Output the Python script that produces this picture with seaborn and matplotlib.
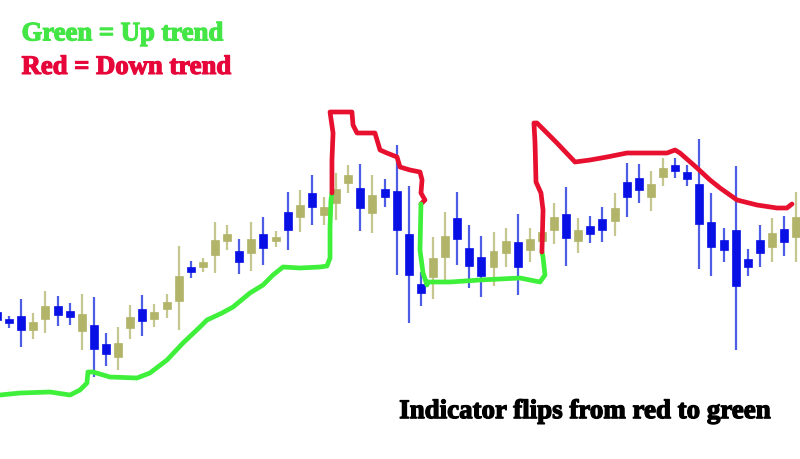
import numpy as np
import pandas as pd
import matplotlib
matplotlib.use("Agg")
import matplotlib.pyplot as plt
import matplotlib.patheffects as pe
import seaborn as sns

# Velas (open, high, low, close)
opens = [18.8, 18.1, 18.4, 17.0, 18.1, 19.4, 18.9, 16.9, 17.5, 15.6,
         14.3, 17.2, 19.1, 18.1, 19.1, 19.9, 23.3, 23.3, 24.5, 25.9,
         24.9, 24.7, 26.6, 25.9, 28.8, 28.3, 30.7, 28.5, 29.7, 31.7,
         31.2, 28.7, 31.1, 30.9, 26.6, 21.6, 22.3, 24.3, 28.2, 25.2,
         24.3, 23.3, 24.7, 25.8, 25.0, 25.9, 27.0, 28.6, 25.9, 27.4,
         28.1, 27.9, 31.8, 32.2, 30.3, 32.3, 33.5, 32.8, 31.6, 27.8,
         26.0, 27.0, 24.1, 26.0, 25.3, 27.1, 26.3]
highs = [19.2, 18.4, 20.1, 18.7, 20.9, 20.4, 19.7, 20.6, 20.3, 16.7,
         17.3, 19.5, 20.5, 19.6, 20.6, 25.4, 23.9, 24.2, 27.8, 27.5,
         26.1, 27.8, 28.3, 26.9, 30.8, 31.0, 32.5, 30.3, 32.7, 33.5,
         33.6, 32.5, 32.1, 35.5, 31.4, 22.8, 26.3, 28.8, 30.8, 27.5,
         26.4, 26.8, 27.2, 28.6, 27.2, 27.5, 29.7, 31.3, 28.2, 28.4,
         29.3, 30.7, 33.7, 33.6, 32.9, 34.2, 34.2, 33.5, 36.1, 30.7,
         27.2, 33.4, 25.1, 27.5, 28.2, 28.4, 30.8]
lows = [17.8, 17.2, 15.3, 16.1, 16.7, 17.4, 17.5, 15.0, 12.3, 13.4,
        13.0, 16.1, 16.4, 17.3, 18.2, 17.0, 22.2, 22.8, 22.7, 25.0,
        22.6, 22.9, 23.5, 25.3, 25.0, 26.8, 27.5, 27.5, 28.0, 30.7,
        26.9, 26.7, 29.3, 22.5, 17.7, 19.4, 20.1, 22.0, 23.5, 21.2,
        20.3, 21.4, 23.3, 20.5, 23.8, 25.2, 25.6, 23.4, 24.7, 25.7,
        25.8, 26.4, 28.3, 29.7, 28.9, 31.4, 32.2, 31.4, 23.1, 22.4,
        23.8, 15.0, 22.4, 23.3, 23.8, 24.4, 23.8]
closes = [18.0, 17.7, 17.0, 17.8, 19.4, 18.5, 18.3, 18.6, 15.1, 14.6,
          15.7, 18.3, 17.9, 18.8, 19.8, 22.4, 22.8, 23.8, 26.0, 26.6,
          23.8, 26.1, 25.2, 26.3, 27.0, 29.5, 29.3, 29.3, 31.1, 32.5,
          29.2, 30.5, 30.3, 27.0, 22.5, 20.7, 24.2, 26.4, 26.1, 23.4,
          22.4, 24.9, 25.9, 23.3, 26.1, 26.8, 28.3, 26.2, 27.0, 26.6,
          27.0, 29.2, 30.3, 31.0, 31.6, 33.2, 32.9, 32.1, 27.6, 25.3,
          25.0, 21.4, 23.3, 24.7, 26.7, 25.8, 28.3]

# Indicador dibujado a mano: tramos verdes (alcista) y rojos (bajista)
verde1_x = [0.25, 1.90, 4.38, 6.03, 6.85, 7.43, 7.51, 7.93, 9.33, 11.56,
            12.63, 14.04, 15.36, 16.76, 17.34, 18.58, 19.49, 20.89, 21.97, 22.79,
            23.62, 25.02, 26.67, 27.25, 27.50, 27.50, 27.58, 27.66]
verde1_y = [10.5, 10.7, 10.8, 10.5, 11.0, 11.7, 12.8, 12.8, 12.3, 12.2,
            12.7, 14.0, 15.7, 17.3, 18.0, 18.7, 19.3, 20.7, 21.5, 22.5,
            23.3, 23.2, 23.3, 23.4, 24.2, 27.3, 30.0, 30.7]
rojo1_x = [27.66, 27.66, 27.75, 27.50, 29.31, 29.40, 29.73, 31.21, 31.63, 32.20,
           33.03, 33.28, 34.10, 34.93, 35.10, 35.01, 35.34, 35.01]
rojo1_y = [30.7, 34.0, 36.7, 38.8, 38.8, 37.5, 36.7, 36.7, 35.0, 34.7,
           34.3, 33.3, 33.0, 32.8, 32.0, 30.7, 30.0, 29.6]
verde2_x = [35.01, 34.93, 35.18, 35.51, 35.59, 37.41, 39.88, 43.19, 44.84, 45.25,
            45.09, 45.00]
verde2_y = [29.6, 25.0, 22.7, 21.5, 21.8, 21.8, 22.0, 22.2, 21.8, 22.5,
            24.3, 24.8]
rojo2_x = [45.00, 45.09, 44.92, 44.51, 44.43, 44.34, 44.59, 46.24, 47.73, 48.97,
           50.37, 52.02, 53.68, 55.33, 55.99, 56.40, 57.81, 58.88, 59.71, 61.11,
           62.76, 64.41, 65.23, 65.65]
rojo2_y = [24.8, 29.0, 30.7, 31.8, 35.7, 37.7, 37.7, 35.7, 33.8, 34.0,
           34.3, 34.7, 34.7, 34.7, 35.0, 34.7, 33.2, 32.0, 31.2, 30.0,
           29.5, 29.2, 29.2, 29.6]

df = pd.DataFrame({'open': opens, 'high': highs, 'low': lows, 'close': closes})
df['idx'] = np.arange(len(df))
df['sube'] = df['close'] >= df['open']

sns.set_style("white")
plt.rcParams['font.family'] = 'Liberation Serif'

fig = plt.figure(figsize=(8, 4.59), dpi=100)
ax = fig.add_axes([0, 0, 1, 1])

# Colores de las velas
body_col = np.where(df['sube'], '#b2b46a', '#0810e6')
wick_col = np.where(df['sube'], '#c6c78e', '#4d5ee4')

ax.vlines(df['idx'], df['low'], df['high'], colors=wick_col, linewidth=1.6, zorder=1)
ax.bar(df['idx'], (df['close'] - df['open']).abs(), bottom=df[['open', 'close']].min(axis=1),
       width=0.66, color=body_col, edgecolor=body_col, linewidth=0.5, zorder=2)

verde = '#3ef03a'
rojo = '#e8102f'
for xs, ys, c in [(verde1_x, verde1_y, verde), (rojo1_x, rojo1_y, rojo),
                  (verde2_x, verde2_y, verde), (rojo2_x, rojo2_y, rojo)]:
    sns.lineplot(x=xs, y=ys, sort=False, estimator=None, color=c, linewidth=3.4,
                 ax=ax, zorder=3, solid_capstyle='round', solid_joinstyle='round')

ax.set_xlim(0.248, 66.31)
ax.set_ylim(4.1, 50)
ax.axis('off')

# textos en negrita (se engruesa con un trazo del mismo color)
textos = [('Green = Up trend', 0.027, 0.912, '#44e645', 19.2),
          ('Red = Down trend', 0.027, 0.839, '#e6063a', 19.2),
          ('Indicator flips from red to green', 0.499, 0.089, 'black', 19.4)]
for t, x, y, c, fs in textos:
    ax.text(x, y, t, transform=ax.transAxes, color=c, fontsize=fs, weight='bold',
            va='baseline', ha='left',
            path_effects=[pe.withStroke(linewidth=0.9, foreground=c)])

fig.savefig('out.png', dpi=100)
